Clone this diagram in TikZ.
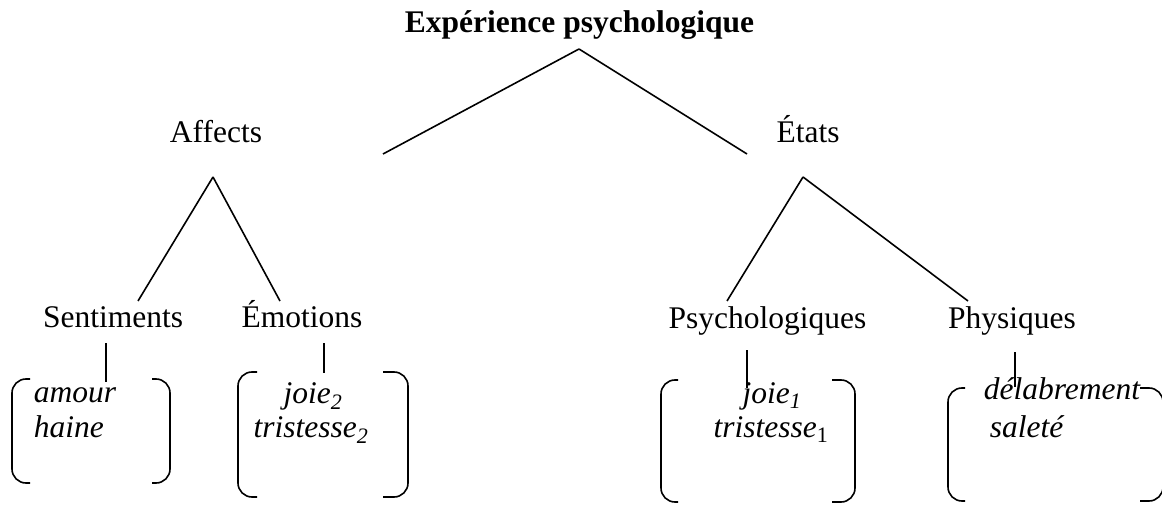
\documentclass[tikz,border=0pt]{standalone}
\usepackage{fontspec}
\setmainfont{Liberation Serif}
\usetikzlibrary{positioning}

\begin{document}
\begin{tikzpicture}[x=1pt, y=-1pt, line width=1.6pt,
    cat/.style={font=\fontsize{31.5}{35}\selectfont, inner sep=0pt, anchor=base},
    word/.style={cat, font=\fontsize{31.5}{35}\selectfont\itshape},
    brk/.style={rounded corners=14pt}]
    \useasboundingbox (0,0) rectangle (1162,505);

    % categories
    \node[cat, font=\fontsize{31.5}{35}\selectfont\bfseries] (exp) at (579.5,33) {Expérience psychologique};
    \node[cat] (affects) at (216,143) {Affects};
    \node[cat] (etats) at (808,143) {États};
    \node[cat] (sentiments) at (113,327) {Sentiments};
    \node[cat] (emotions) at (302,327) {Émotions};
    \node[cat] (psycho) at (767.5,328) {Psychologiques};
    \node[cat] (physiques) at (1012,328) {Physiques};

    % words
    \node[word, anchor=base west] (amour) at (33,402) {amour};
    \node[word, anchor=base west] (haine) at (33,437) {haine};
    \node[word] (joie2) at (313,403) {joie\textsubscript{2}};
    \node[word] (tristesse2) at (311,437) {tristesse\textsubscript{2}};
    \node[word] (joie1) at (772,403) {joie\textsubscript{1}};
    \node[word] (tristesse1) at (771,437) {tristesse\textsubscript{\upshape 1}};
    \node[word, anchor=base west] (delabrement) at (983,399) {délabrement};
    \node[word, anchor=base west] (salete) at (989,437) {saleté};

    % end points of the branches
    \coordinate (exp-fork) at (579,49);
    \coordinate (affects-top) at (383,154);
    \coordinate (etats-top) at (747,154);
    \coordinate (affects-fork) at (213,177);
    \coordinate (sentiments-top) at (138,301);
    \coordinate (emotions-top) at (280,301);
    \coordinate (etats-fork) at (803,177);
    \coordinate (psycho-top) at (727,301);
    \coordinate (physiques-top) at (968,301);

    \draw (exp-fork) -- (affects-top);
    \draw (exp-fork) -- (etats-top);
    \draw (affects-fork) -- (sentiments-top);
    \draw (affects-fork) -- (emotions-top);
    \draw (etats-fork) -- (psycho-top);
    \draw (etats-fork) -- (physiques-top);

    % short stems down to the lists
    \coordinate (sentiments-foot) at (106,343);
    \coordinate (emotions-foot) at (324,343);
    \coordinate (psycho-foot) at (747,350);
    \coordinate (physiques-foot) at (1015,352);
    \draw (sentiments-foot) -- ++(0,39);
    \draw (emotions-foot) -- ++(0,30);
    \draw (psycho-foot) -- ++(0,38);
    \draw (physiques-foot) -- ++(0,35);

    % brackets round the lists
    \foreach \l/\r/\t/\b/\hl/\hr in {12/170/379/483/18/18, 238/408/372/497/19/25,
                                     661/855/380/502/17/23, 948/1163/388/501/17/23} {
        \draw[brk] (\l+\hl,\t) -- (\l,\t) -- (\l,\b) -- (\l+\hl,\b);
        \draw[brk] (\r-\hr,\t) -- (\r,\t) -- (\r,\b) -- (\r-\hr,\b);
    }
\end{tikzpicture}
\end{document}
